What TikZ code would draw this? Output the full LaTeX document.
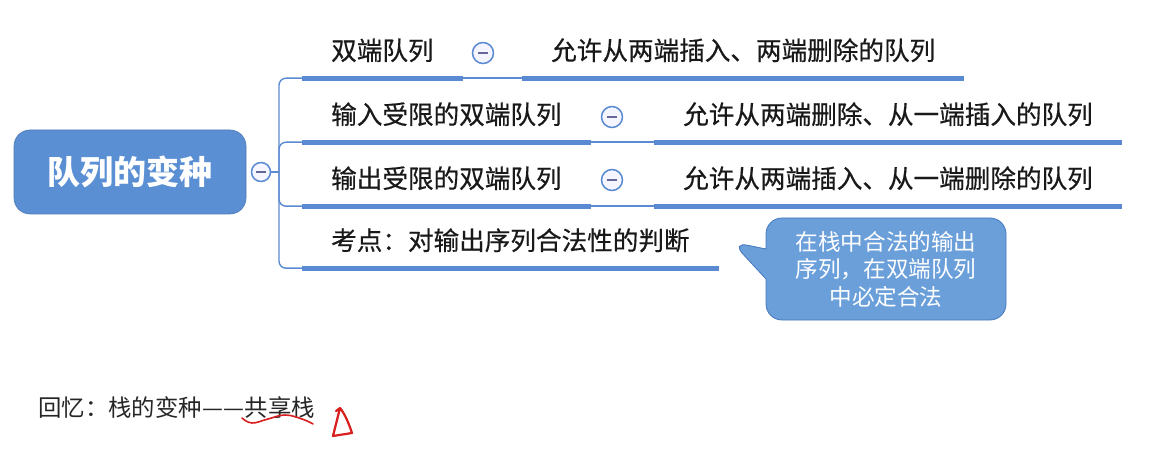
\documentclass[tikz,border=0pt]{standalone}
\usepackage{fontspec}
\setmainfont{Noto Sans CJK SC}
\newfontfamily\zhong[FakeBold=0.5]{Noto Sans CJK SC}
\usetikzlibrary{shapes.callouts,positioning}

\definecolor{zhuti}{HTML}{5B8FD3}
\definecolor{xian}{HTML}{5A8AD2}
\definecolor{qipao}{HTML}{6A9FDA}
\definecolor{qipaobian}{HTML}{4677BE}
\definecolor{hongbi}{HTML}{D81E1E}

\tikzset{
  root/.style={rectangle, rounded corners=16pt, fill=zhuti, draw=zhuti!85!black, line width=0.6pt,
    minimum width=232pt, minimum height=84pt, text=white, font=\fontsize{33}{36}\selectfont\bfseries},
  topic/.style={anchor=west, inner xsep=29pt, inner ysep=0pt, text height=19pt, text depth=3pt,
    minimum height=52pt, text=black!90, font=\zhong\fontsize{25.6}{28}\selectfont},
  jian/.style={circle, draw=xian, fill=blue!4, line width=1.5pt, minimum size=21pt, inner sep=0pt,
    path picture={\draw[gray!80!blue, line width=1.1pt]
      ([xshift=-5pt]path picture bounding box.center) -- ([xshift=5pt]path picture bounding box.center);}},
  uline/.style={xian, line width=5pt},
  thinline/.style={xian, line width=1.4pt},
  branch/.style={xian, line width=1.4pt, rounded corners=7pt},
  bubble/.style={rectangle callout, rounded corners=16pt, fill=qipao, draw=qipaobian, line width=0.8pt,
    minimum width=240pt, minimum height=102pt, callout pointer width=30pt, align=center,
    text=white, font=\fontsize{22.6}{27.5}\selectfont}
}

\begin{document}
\begin{tikzpicture}[x=1pt, y=-1pt]
  % 画布大小
  \useasboundingbox (0,0) rectangle (1151,462);

  % 中心主题
  \node[root] (zhu) at (130,172) {队列的变种};
  \node[jian, minimum size=19pt] (c0) at (261,172) {};
  \coordinate (hub) at (279,172);

  % 分支主题
  \node[topic] (a1) at (302,52)  {双端队列};
  \node[topic] (a2) at (302,116) {输入受限的双端队列};
  \node[topic] (a3) at (302,180) {输出受限的双端队列};
  \node[topic] (a4) at (302,242) {考点：对输出序列合法性的判断};

  % 子主题
  \node[topic] (b1) at (522,52)  {允许从两端插入、两端删除的队列};
  \node[topic] (b2) at (654,116) {允许从两端删除、从一端插入的队列};
  \node[topic] (b3) at (654,180) {允许从两端插入、从一端删除的队列};

  % 折叠按钮
  \node[jian] (c1) at (483,53)  {};
  \node[jian] (c2) at (612,117) {};
  \node[jian] (c3) at (612,180) {};

  % 连线
  \draw[thinline] (c0.east) -- (hub);
  \foreach \n in {a1,a2,a3,a4}
    \draw[branch] (hub) |- (\n.south west);
  \foreach \n in {a1,a2,a3,a4,b1,b2,b3}
    \draw[uline] (\n.south west) -- (\n.south east);
  \draw[thinline] (a1.south east) -- (b1.south west);
  \draw[thinline] (a2.south east) -- (b2.south west);
  \draw[thinline] (a3.south east) -- (b3.south west);

  % 标注气泡
  \node[bubble, callout absolute pointer={([xshift=13pt]a4.east)}] (tip) at (886,269)
    {在栈中合法的输出\\序列，在双端队列\\中必定合法};

  % 底部文字
  \node[anchor=west, inner sep=0pt, text=black!85, font=\fontsize{23.4}{26}\selectfont] (huiyi) at (38,408)
    {回忆：栈的变种—\kern1pt—共享栈};

  % 红笔批注
  \draw[hongbi, line width=1.6pt, line cap=round] plot[smooth, tension=0.7]
    coordinates {(242,418) (252,423) (268,419) (285,415) (302,419) (313,424)};
  \draw[hongbi, line width=2.2pt, line cap=round, line join=round]
    (336,411) -- (340,408) -- (333,436) -- (352,433) .. controls (349,424) and (345,414) .. (340,408);
\end{tikzpicture}
\end{document}
